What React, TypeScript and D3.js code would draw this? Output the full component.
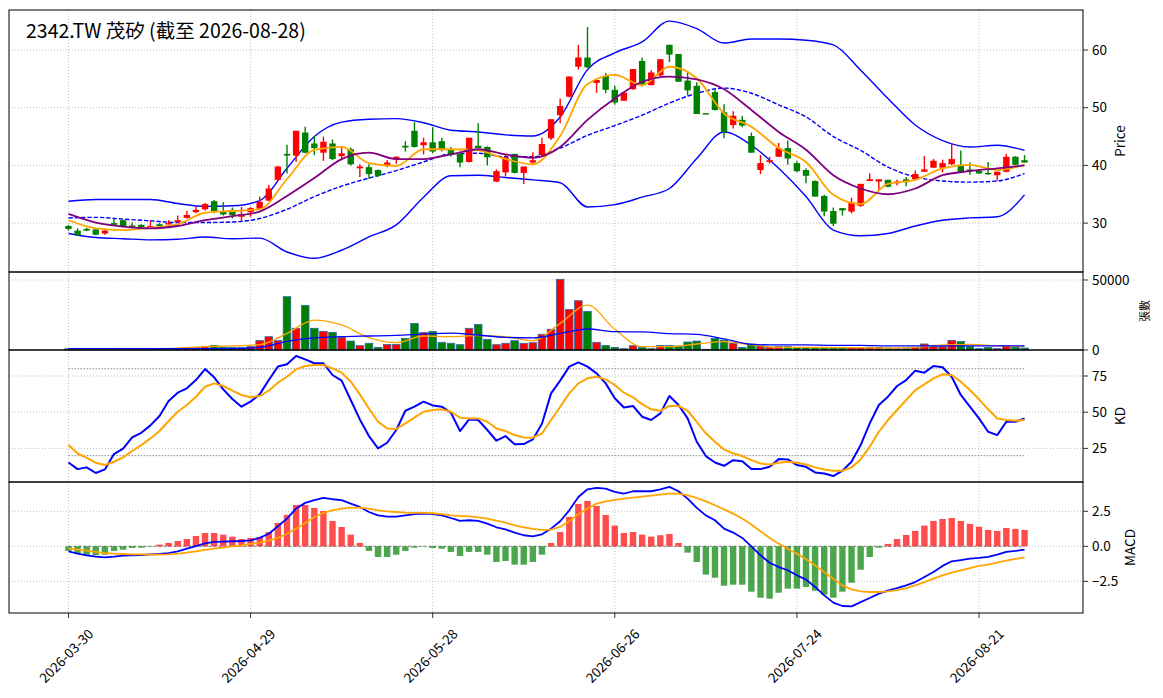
import React from "react";
import * as d3 from "d3";

// x-axis ticks (trading-day index -> date label)
const tickIdx = [0, 20, 40, 60, 80, 100];
const tickLabels = ["2026-03-30", "2026-04-29", "2026-05-28", "2026-06-26", "2026-07-24", "2026-08-21"];

// daily candles, 106 trading days
const opens = [
  29.5, 28.7, 29.0, 28.9, 28.2, 30.0, 30.5, 29.6, 29.7, 29.3,
  29.8, 29.9, 30.2, 30.9, 31.9, 32.4, 33.8, 32.0, 32.3, 31.1,
  31.9, 32.5, 33.9, 37.5, 42.0, 41.7, 45.7, 43.8, 42.2, 43.8,
  41.6, 42.8, 39.5, 39.7, 39.2, 40.0, 41.1, 43.4, 46.0, 43.5,
  44.0, 44.2, 42.7, 42.0, 40.6, 43.4, 43.2, 37.2, 38.8, 42.0,
  38.7, 40.5, 41.8, 44.7, 48.7, 51.9, 57.1, 58.7, 54.3, 55.5,
  53.1, 51.2, 53.2, 58.1, 53.9, 55.6, 60.9, 59.3, 54.7, 53.8,
  49.05, 52.7, 49.2, 47.0, 47.9, 45.1, 39.2, 40.6, 41.5, 43.0,
  40.4, 39.2, 37.3, 34.7, 32.1, 32.6, 32.0, 33.0, 37.3, 37.2,
  37.5, 36.9, 37.6, 37.6, 38.9, 39.6, 39.6, 40.2, 40.1, 39.3,
  39.1, 38.7, 38.3, 38.9, 41.5, 40.9,
];
const highs = [
  29.7, 29.1, 29.2, 29.1, 28.9, 30.7, 30.6, 30.1, 29.8, 30.4,
  30.0, 30.5, 31.3, 32.1, 32.8, 33.5, 34.0, 33.6, 32.7, 32.8,
  32.8, 34.6, 36.6, 39.9, 43.6, 46.0, 46.7, 45.1, 45.0, 44.5,
  43.4, 43.1, 40.2, 40.2, 39.3, 40.9, 41.6, 44.2, 47.5, 44.8,
  46.6, 44.8, 43.2, 42.4, 44.8, 47.3, 43.3, 39.3, 41.8, 42.0,
  39.8, 42.3, 44.8, 48.0, 51.6, 55.4, 60.9, 64.0, 54.8, 56.0,
  53.8, 52.6, 56.7, 58.7, 56.5, 58.4, 60.9, 59.3, 56.3, 54.4,
  49.1, 53.1, 50.6, 49.4, 48.6, 45.7, 41.8, 41.5, 43.9, 44.3,
  40.7, 39.5, 37.4, 34.9, 32.7, 32.6, 34.4, 36.8, 38.6, 37.6,
  37.5, 37.5, 38.0, 39.1, 41.6, 41.1, 41.0, 43.9, 42.6, 40.5,
  39.1, 40.6, 38.9, 42.0, 41.6, 41.8,
];
const lows = [
  28.7, 27.9, 28.6, 27.9, 28.0, 29.5, 29.3, 29.1, 29.2, 29.0,
  29.3, 29.8, 30.0, 30.8, 31.7, 32.2, 31.7, 31.3, 30.8, 30.4,
  31.1, 32.3, 33.8, 37.3, 38.6, 40.6, 42.1, 41.8, 40.8, 40.9,
  40.9, 40.0, 38.0, 37.7, 38.0, 39.7, 40.3, 42.4, 43.1, 41.9,
  42.1, 42.4, 41.5, 39.7, 40.5, 43.0, 40.0, 37.1, 38.1, 38.6,
  36.8, 40.3, 41.5, 44.4, 47.3, 51.8, 56.6, 56.9, 52.6, 52.5,
  50.5, 51.2, 53.1, 53.7, 53.9, 55.4, 57.9, 54.5, 52.1, 48.9,
  48.9, 49.5, 44.7, 46.4, 46.6, 42.2, 38.5, 40.3, 41.5, 40.1,
  38.8, 36.9, 34.6, 31.2, 29.5, 31.3, 31.7, 32.8, 37.3, 35.7,
  36.2, 36.5, 36.4, 37.4, 38.9, 39.6, 38.8, 40.1, 38.8, 38.4,
  38.5, 38.4, 37.4, 38.8, 40.0, 40.5,
];
const closes = [
  29.0, 27.9, 28.7, 28.0, 28.7, 29.7, 29.4, 29.4, 29.3, 29.5,
  29.5, 30.0, 30.5, 31.4, 32.3, 33.3, 32.0, 31.5, 31.4, 31.6,
  32.6, 33.7, 36.0, 39.8, 41.7, 46.0, 42.2, 43.0, 44.1, 41.1,
  42.1, 40.2, 39.8, 38.5, 38.2, 40.5, 41.5, 43.1, 43.2, 44.0,
  42.4, 42.7, 41.8, 40.5, 44.8, 43.0, 41.4, 39.0, 41.4, 38.7,
  39.8, 40.9, 43.7, 48.0, 50.3, 55.4, 58.7, 57.0, 54.8, 53.1,
  50.9, 52.6, 56.7, 53.9, 56.1, 58.4, 59.2, 54.5, 53.0, 48.9,
  48.95, 49.6, 45.8, 48.6, 46.9, 42.2, 40.4, 40.9, 43.0, 41.2,
  39.0, 38.2, 34.6, 32.0, 29.9, 32.2, 33.6, 36.8, 37.6, 37.6,
  36.3, 37.2, 37.1, 38.5, 39.3, 40.8, 40.4, 41.1, 38.9, 39.0,
  38.6, 38.6, 38.9, 41.5, 40.1, 40.5,
];
const volumes = [
  900, 500, 400, 600, 300, 500, 700, 400, 500, 600,
  500, 800, 1200, 1900, 1900, 2600, 3300, 2000, 1900, 1700,
  2400, 6700, 9500, 6700, 38100, 15500, 31900, 15500, 13300, 12600,
  9000, 6400, 3100, 4800, 1900, 4000, 4000, 8300, 19000, 12400,
  13300, 5500, 4800, 3800, 15500, 18300, 7600, 3800, 4800, 6700,
  4800, 5200, 11200, 14800, 50500, 29000, 35200, 27600, 5500, 3300,
  1900, 950, 3100, 1900, 950, 3300, 3300, 2900, 5700, 6400,
  500, 8300, 7100, 4800, 1900, 4300, 2900, 1900, 2400, 2400,
  1900, 1900, 1900, 1900, 1900, 1900, 1700, 1700, 1900, 1700,
  1400, 950, 950, 1900, 4300, 2400, 2400, 6900, 6000, 2400,
  950, 1900, 950, 3100, 1900, 1400,
];

// overlay lines, read every third trading day
const sampleIdx = [
  0, 3, 6, 9, 12, 15, 18, 21, 24, 27, 30, 33, 36, 39, 42, 45, 48, 51,
  54, 57, 60, 63, 66, 69, 72, 75, 78, 81, 84, 87, 90, 93, 96, 99, 102, 105,
];
const bbUpper = [
  33.8, 34.1, 34.1, 34.1, 33.4, 32.9, 33.0, 33.9, 39.5, 45.0, 47.5, 48.0, 48.1, 47.4, 46.1, 45.8, 45.3, 45.1,
  48.4, 56.6, 59.5, 61.4, 65.0, 63.7, 61.2, 61.9, 61.9, 61.7, 60.9, 56.5, 51.6, 47.0, 44.3, 43.2, 43.5, 42.6,
];
const bbMiddle = [
  30.9, 31.0, 30.7, 30.4, 30.1, 30.1, 30.2, 30.8, 32.4, 34.6, 36.4, 37.8, 39.1, 40.6, 42.0, 42.1, 41.5, 41.5,
  43.0, 45.2, 46.9, 48.7, 50.8, 52.5, 53.4, 52.5, 50.5, 48.4, 45.0, 42.6, 39.7, 38.0, 37.3, 37.1, 37.3, 38.6,
];
const bbLower = [
  28.2, 27.5, 27.3, 27.1, 27.2, 27.6, 27.3, 27.4, 25.0, 23.9, 25.3, 27.6, 29.7, 34.5, 38.2, 38.3, 37.9, 37.5,
  37.0, 32.8, 33.2, 34.5, 36.0, 41.2, 45.8, 43.5, 39.5, 34.6, 28.8, 27.8, 28.2, 29.5, 30.5, 30.9, 31.1, 34.9,
];
const ma5 = [
  30.5, 29.1, 28.8, 29.2, 29.8, 31.8, 32.1, 32.4, 37.6, 42.7, 43.2, 40.4, 39.9, 42.8, 42.8, 42.6, 41.1, 40.2,
  45.1, 54.1, 55.7, 53.9, 57.1, 55.1, 49.0, 46.7, 43.0, 40.6, 34.9, 33.3, 36.8, 37.5, 39.5, 40.1, 39.2, 40.1,
];
const ma10 = [
  31.6, 30.1, 29.4, 29.1, 29.5, 30.5, 31.2, 32.0, 34.7, 37.8, 41.1, 42.2, 41.1, 41.1, 41.9, 42.8, 41.9, 41.3,
  43.2, 47.9, 51.6, 54.5, 55.4, 54.9, 53.2, 49.6, 45.8, 42.7, 38.3, 36.0, 35.0, 36.0, 38.3, 39.0, 39.5, 40.0,
];
const volMa5 = [
  500, 500, 700, 950, 1400, 2400, 2900, 3800, 11900, 21400, 17900, 8800, 5200, 10000, 9500, 10200, 9500, 6700,
  19000, 32100, 14800, 2400, 2400, 4300, 6000, 3600, 1900, 1900, 1700, 1700, 1400, 1900, 3600, 4000, 2900, 2600,
];
const volMa20 = [
  950, 950, 950, 950, 950, 950, 950, 1900, 6200, 8600, 9500, 10000, 10500, 11400, 12100, 10700, 9000, 8600,
  11900, 15000, 13100, 12900, 11700, 11200, 7900, 4000, 3600, 3600, 3300, 3300, 2900, 2900, 2900, 2900, 2900, 2900,
];

// KD, every trading day
const kLine = [
  15.3, 10.7, 11.9, 8.0, 10.5, 21.1, 24.8, 32.6, 35.8, 40.9,
  47.4, 57.7, 63.5, 66.5, 72.2, 79.8, 74.1, 65.8, 59.1, 53.8,
  57.3, 62.3, 72.2, 81.5, 83.1, 88.8, 86.5, 83.8, 83.8, 75.7,
  71.8, 58.4, 45.0, 33.5, 25.0, 28.9, 37.7, 51.0, 53.8, 57.3,
  54.7, 53.8, 49.7, 37.0, 45.0, 44.6, 37.7, 30.3, 33.5, 27.8,
  28.0, 31.2, 42.0, 63.0, 71.8, 81.5, 84.4, 81.5, 76.8, 69.9,
  59.6, 53.3, 54.3, 46.9, 44.6, 49.2, 61.2, 55.0, 45.7, 29.6,
  19.7, 15.3, 13.0, 16.9, 16.2, 10.7, 10.7, 12.3, 17.6, 17.4,
  13.5, 12.3, 8.4, 7.7, 5.9, 9.6, 15.8, 27.3, 42.3, 55.0,
  60.7, 68.1, 72.2, 78.7, 77.3, 81.9, 81.0, 74.5, 61.9, 53.8,
  45.7, 36.5, 34.2, 43.4, 43.4, 45.7,
];
const dLine = [
  27.3, 21.5, 18.5, 15.1, 13.5, 15.8, 18.8, 23.2, 27.3, 31.9,
  37.0, 43.9, 50.3, 55.0, 60.7, 67.6, 69.9, 68.1, 64.9, 61.9,
  60.3, 61.2, 64.9, 70.4, 74.5, 79.6, 81.9, 82.6, 82.6, 80.3,
  77.3, 71.1, 62.3, 52.6, 43.4, 38.8, 38.4, 42.3, 46.2, 50.3,
  51.5, 52.0, 50.3, 46.2, 45.7, 45.7, 43.4, 38.8, 37.0, 34.2,
  32.6, 32.4, 35.3, 44.6, 53.8, 63.0, 69.9, 73.4, 74.5, 72.7,
  68.8, 63.5, 60.3, 55.6, 52.0, 51.0, 54.3, 54.3, 51.0, 43.4,
  35.4, 29.6, 24.3, 21.5, 19.7, 16.9, 14.6, 13.9, 15.1, 15.8,
  15.1, 13.9, 11.9, 10.5, 9.6, 9.6, 11.9, 17.4, 26.2, 36.5,
  44.6, 51.5, 58.4, 65.3, 69.2, 73.4, 76.2, 75.7, 71.1, 65.3,
  58.9, 52.0, 45.7, 44.6, 44.1, 44.6,
];

// MACD, every trading day
const macdHist = [
  -0.33, -0.52, -0.64, -0.64, -0.60, -0.33, -0.24, -0.12, -0.10, -0.02,
  0.12, 0.24, 0.38, 0.52, 0.74, 0.95, 0.95, 0.83, 0.69, 0.52,
  0.60, 0.67, 1.02, 1.67, 2.24, 2.95, 2.95, 2.74, 2.52, 1.81,
  1.38, 0.83, 0.24, -0.33, -0.76, -0.76, -0.60, -0.33, -0.10, -0.02,
  -0.12, -0.17, -0.40, -0.69, -0.40, -0.40, -0.60, -1.12, -1.05, -1.31,
  -1.31, -1.12, -0.60, 0.24, 1.02, 2.10, 3.02, 3.24, 2.88, 2.24,
  1.48, 0.95, 1.02, 0.83, 0.69, 0.79, 0.88, 0.24, -0.45, -1.12,
  -2.02, -2.24, -2.81, -2.74, -2.74, -3.24, -3.67, -3.74, -3.31, -3.02,
  -3.02, -2.90, -3.17, -3.45, -3.67, -3.24, -2.60, -1.67, -0.76, -0.10,
  0.17, 0.52, 0.81, 1.10, 1.48, 1.81, 1.95, 2.02, 1.81, 1.60,
  1.40, 1.17, 1.10, 1.31, 1.24, 1.17,
];
const macdDif = [
  -0.36, -0.52, -0.64, -0.74, -0.79, -0.74, -0.67, -0.64, -0.62, -0.57,
  -0.55, -0.48, -0.36, -0.17, 0.02, 0.21, 0.31, 0.33, 0.36, 0.38,
  0.43, 0.60, 0.90, 1.43, 1.98, 2.69, 3.10, 3.29, 3.45, 3.36,
  3.29, 3.05, 2.81, 2.45, 2.21, 2.12, 2.12, 2.21, 2.29, 2.33,
  2.29, 2.21, 2.02, 1.81, 1.86, 1.81, 1.62, 1.36, 1.21, 0.98,
  0.79, 0.71, 0.86, 1.26, 1.79, 2.57, 3.52, 4.07, 4.17, 4.12,
  3.88, 3.76, 3.93, 3.93, 3.93, 4.07, 4.24, 3.93, 3.40, 2.74,
  2.21, 1.86, 1.26, 0.98, 0.60, 0.00, -0.64, -1.17, -1.48, -1.71,
  -2.07, -2.38, -2.90, -3.50, -4.02, -4.26, -4.29, -3.98, -3.69, -3.38,
  -3.17, -2.98, -2.79, -2.55, -2.19, -1.83, -1.40, -1.07, -0.98, -0.88,
  -0.83, -0.76, -0.60, -0.40, -0.33, -0.24,
];
const macdDea = [
  -0.17, -0.24, -0.31, -0.40, -0.48, -0.52, -0.55, -0.57, -0.57, -0.60,
  -0.60, -0.57, -0.52, -0.45, -0.36, -0.26, -0.17, -0.10, 0.00, 0.07,
  0.17, 0.26, 0.40, 0.60, 0.90, 1.26, 1.67, 2.10, 2.38, 2.57,
  2.69, 2.76, 2.76, 2.69, 2.57, 2.50, 2.45, 2.40, 2.38, 2.38,
  2.36, 2.29, 2.21, 2.17, 2.14, 2.07, 1.98, 1.83, 1.69, 1.50,
  1.36, 1.24, 1.18, 1.19, 1.38, 1.79, 2.29, 2.69, 3.05, 3.21,
  3.31, 3.40, 3.48, 3.55, 3.62, 3.69, 3.76, 3.76, 3.64, 3.45,
  3.21, 2.93, 2.64, 2.33, 1.98, 1.55, 1.07, 0.60, 0.19, -0.17,
  -0.52, -0.93, -1.36, -1.83, -2.31, -2.79, -3.07, -3.21, -3.26, -3.26,
  -3.21, -3.12, -2.98, -2.79, -2.55, -2.31, -2.07, -1.88, -1.71, -1.55,
  -1.40, -1.31, -1.17, -1.02, -0.90, -0.79,
];

const W = 1163, H = 698;
const left = 9, right = 1083;
const FONT = "'Noto Sans CJK TC', 'Noto Sans', sans-serif";
const RED = "#ff0000", GREEN = "#008000";

const priceBox = [10, 272], volBox = [272, 350], kdBox = [350, 482], macdBox = [482, 613];

const x = d3.scaleLinear().domain([-6.53, 111.42]).range([left, right]);
const yPrice = d3.scaleLinear().domain([21.53, 66.93]).range([priceBox[1], priceBox[0]]);
const yVol = d3.scaleLinear().domain([0, 55700]).range([volBox[1], volBox[0]]);
const yKd = d3.scaleLinear().domain([1.8, 92.96]).range([kdBox[1], kdBox[0]]);
const yMacd = d3.scaleLinear().domain([-4.76, 4.59]).range([macdBox[1], macdBox[0]]);

const dayIdx = closes.map((_, i) => i);

function linePath(idx: number[], vals: number[], y: d3.ScaleLinear<number, number>, curve: d3.CurveFactory = d3.curveLinear) {
  return d3.line<number>().x((_, k) => x(idx[k])).y(v => y(v)).curve(curve)(vals) || "";
}

function Grid({ y, ticks, box }: { y: d3.ScaleLinear<number, number>; ticks: number[]; box: number[] }) {
  return (
    <g stroke="#b0b0b0" strokeWidth={0.8} strokeDasharray="1,2">
      {tickIdx.map(t => <line key={"v" + t} x1={x(t)} x2={x(t)} y1={box[0]} y2={box[1]} />)}
      {ticks.map(t => <line key={"h" + t} x1={left} x2={right} y1={y(t)} y2={y(t)} />)}
    </g>
  );
}

function RightAxis({ y, ticks, fmt }: { y: d3.ScaleLinear<number, number>; ticks: number[]; fmt: (v: number) => string }) {
  return (
    <g fontSize={13.5} fontFamily={FONT} fill="#000">
      {ticks.map(t => (
        <g key={t}>
          <line x1={right} x2={right + 5} y1={y(t)} y2={y(t)} stroke="#000" strokeWidth={0.8} />
          <text x={right + 9} y={y(t)} dy="0.35em">{fmt(t)}</text>
        </g>
      ))}
    </g>
  );
}

function Frame({ box }: { box: number[] }) {
  return <rect x={left} y={box[0]} width={right - left} height={box[1] - box[0]} fill="none" stroke="#000" strokeWidth={1} />;
}

export default function App() {
  const up = (i: number) => closes[i] >= opens[i];
  const smooth = d3.curveMonotoneX;
  return (
    <svg width={W} height={H} style={{ position: "fixed", left: 0, top: 0, background: "#fff" }} fontFamily={FONT}>
      <rect width={W} height={H} fill="#fff" />

      <Grid y={yPrice} ticks={[30, 40, 50, 60]} box={priceBox} />
      <Grid y={yVol} ticks={[50000]} box={volBox} />
      <Grid y={yKd} ticks={[25, 50, 75]} box={kdBox} />
      <Grid y={yMacd} ticks={[-2.5, 0, 2.5]} box={macdBox} />

      {/* price panel */}
      <g fill="none" strokeLinejoin="round">
        <path d={linePath(sampleIdx, bbUpper, yPrice, smooth)} stroke="blue" strokeWidth={1.4} />
        <path d={linePath(sampleIdx, bbLower, yPrice, smooth)} stroke="blue" strokeWidth={1.4} />
        <path d={linePath(sampleIdx, bbMiddle, yPrice, smooth)} stroke="blue" strokeWidth={1.4} strokeDasharray="4.4,1.9" />
      </g>
      {dayIdx.map(i => {
        const c = up(i) ? RED : GREEN;
        const top = yPrice(Math.max(opens[i], closes[i]));
        const bot = yPrice(Math.min(opens[i], closes[i]));
        return (
          <g key={i}>
            <line x1={x(i)} x2={x(i)} y1={yPrice(highs[i])} y2={yPrice(lows[i])} stroke={c} strokeWidth={1.4} />
            <rect x={x(i) - 3.2} y={top} width={6.4} height={Math.max(bot - top, 1.4)} fill={c} />
          </g>
        );
      })}
      <g fill="none" strokeLinejoin="round">
        <path d={linePath(sampleIdx, ma5, yPrice, smooth)} stroke="orange" strokeWidth={1.8} />
        <path d={linePath(sampleIdx, ma10, yPrice, smooth)} stroke="purple" strokeWidth={1.8} />
      </g>
      <text x={26} y={38} fontSize={19.5} fill="#000">2342.TW 茂矽 (截至 2026-08-28)</text>

      {/* volume panel */}
      {dayIdx.map(i => (
        <rect key={i} x={x(i) - 3.8} y={yVol(volumes[i])} width={7.6} height={yVol(0) - yVol(volumes[i])}
          fill={up(i) ? RED : GREEN} stroke="#2a6ea6" strokeWidth={0.8} />
      ))}
      <g fill="none">
        <path d={linePath(sampleIdx, volMa5, yVol, smooth)} stroke="orange" strokeWidth={1.3} />
        <path d={linePath(sampleIdx, volMa20, yVol, smooth)} stroke="blue" strokeWidth={1.3} />
      </g>

      {/* KD panel */}
      <g stroke="#808080" strokeWidth={0.9} strokeDasharray="1.5,1.5">
        <line x1={x(0)} x2={x(105)} y1={yKd(80)} y2={yKd(80)} />
        <line x1={x(0)} x2={x(105)} y1={yKd(20)} y2={yKd(20)} />
      </g>
      <g fill="none" strokeWidth={2} strokeLinejoin="round">
        <path d={linePath(dayIdx, kLine, yKd)} stroke="blue" />
        <path d={linePath(dayIdx, dLine, yKd)} stroke="orange" />
      </g>

      {/* MACD panel */}
      <line x1={x(0)} x2={x(105)} y1={yMacd(0)} y2={yMacd(0)} stroke="#808080" strokeWidth={1} strokeDasharray="3,2" />
      {dayIdx.map(i => {
        const v = macdHist[i];
        return (
          <rect key={i} x={x(i) - 3.2} y={Math.min(yMacd(v), yMacd(0))} width={6.4} height={Math.abs(yMacd(v) - yMacd(0))}
            fill={v >= 0 ? "rgba(255,0,0,0.7)" : "rgba(0,128,0,0.7)"} />
        );
      })}
      <g fill="none" strokeWidth={1.8} strokeLinejoin="round">
        <path d={linePath(dayIdx, macdDif, yMacd)} stroke="blue" />
        <path d={linePath(dayIdx, macdDea, yMacd)} stroke="orange" />
      </g>

      <Frame box={priceBox} />
      <Frame box={volBox} />
      <Frame box={kdBox} />
      <Frame box={macdBox} />

      <RightAxis y={yPrice} ticks={[30, 40, 50, 60]} fmt={d3.format("d")} />
      <RightAxis y={yVol} ticks={[0, 50000]} fmt={d3.format("d")} />
      <RightAxis y={yKd} ticks={[25, 50, 75]} fmt={d3.format("d")} />
      <RightAxis y={yMacd} ticks={[-2.5, 0, 2.5]} fmt={v => (v < 0 ? "\u2212" : "") + Math.abs(v).toFixed(1)} />

      <g fontSize={13.5} fill="#000" textAnchor="middle">
        <text transform={`translate(1125,${(priceBox[0] + priceBox[1]) / 2}) rotate(-90)`}>Price</text>
        <text fontSize={11} transform={`translate(1149,${(volBox[0] + volBox[1]) / 2}) rotate(-90)`}>張數</text>
        <text transform={`translate(1125,${(kdBox[0] + kdBox[1]) / 2}) rotate(-90)`}>KD</text>
        <text transform={`translate(1135,${(macdBox[0] + macdBox[1]) / 2}) rotate(-90)`}>MACD</text>
      </g>

      {/* x axis */}
      <g fontSize={13.5} fill="#000">
        {tickIdx.map((t, k) => (
          <g key={t}>
            <line x1={x(t)} x2={x(t)} y1={macdBox[1]} y2={macdBox[1] + 5} stroke="#000" strokeWidth={0.8} />
            <text transform={`translate(${x(t) - 2},656) rotate(-45)`} textAnchor="middle" dy="0.35em">{tickLabels[k]}</text>
          </g>
        ))}
      </g>
    </svg>
  );
}
